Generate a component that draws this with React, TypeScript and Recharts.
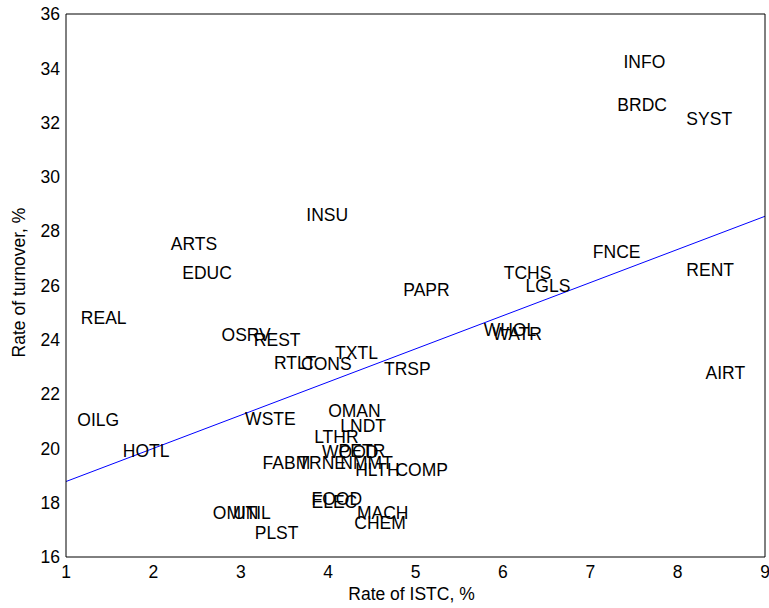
import React from "react";
import { ScatterChart, Scatter, XAxis, YAxis, ReferenceLine, Label } from "recharts";

const sectors = [
  "INFO", "BRDC", "SYST", "INSU", "ARTS", "FNCE", "EDUC", "TCHS", "RENT", "LGLS",
  "PAPR", "REAL", "OSRV", "REST", "WHOL", "WATR", "TXTL", "RTLT", "CONS", "TRSP",
  "AIRT", "OILG", "WSTE", "OMAN", "LNDT", "LTHR", "HOTL", "WOOD", "PETR", "FABM",
  "TRNE", "NMMT", "HLTH", "COMP", "FOOD", "ELEC", "OMIN", "UTIL", "MACH", "CHEM",
  "PLST",
];
const istcRate = [
  7.38, 7.31, 8.1, 3.75, 2.2, 7.03, 2.33, 6.01, 8.1, 6.26,
  4.86, 1.17, 2.78, 3.15, 5.78, 5.88, 4.08, 3.38, 3.69, 4.64,
  8.32, 1.13, 3.05, 4.0, 4.14, 3.84, 1.65, 3.93, 4.12, 3.25,
  3.66, 4.14, 4.31, 4.77, 3.81, 3.81, 2.68, 2.91, 4.33, 4.3,
  3.16,
];
const turnoverRate = [
  34.23, 32.65, 32.13, 28.59, 27.52, 27.23, 26.45, 26.45, 26.56, 25.97,
  25.83, 24.79, 24.17, 23.98, 24.35, 24.2, 23.5, 23.14, 23.1, 22.91,
  22.77, 21.03, 21.1, 21.37, 20.81, 20.41, 19.89, 19.86, 19.9, 19.45,
  19.45, 19.45, 19.19, 19.19, 18.12, 18.01, 17.61, 17.61, 17.61, 17.24,
  16.87,
];
const xTicks = [1, 2, 3, 4, 5, 6, 7, 8, 9];
const yTicks = [16, 18, 20, 22, 24, 26, 28, 30, 32, 34, 36];
const fitX = [1, 9];
const fitY = [18.78, 28.55];

const data = sectors.map((name, i) => ({ name, x: istcRate[i], y: turnoverRate[i] }));

const FONT = "'Liberation Sans', Arial, Helvetica, sans-serif";
const FS = 17.5;

const LabelShape = (props: any) => (
  <text
    x={props.cx}
    y={props.cy}
    dominantBaseline="central"
    textAnchor="start"
    fontSize={FS}
    fontFamily={FONT}
    fill="#000"
  >
    {props.payload.name}
  </text>
);

export default function App() {
  const tickStyle = { fill: "#000", fontSize: FS, fontFamily: FONT };
  const line = { stroke: "#000", strokeWidth: 1 };
  return (
    <div style={{ position: "absolute", left: 0, top: 0, width: 769, height: 608, background: "#fff" }}>
      <ScatterChart width={769} height={608} margin={{ top: 14, right: 4, bottom: 0, left: 0 }}>
        <XAxis
          xAxisId="b"
          type="number"
          dataKey="x"
          domain={[1, 9]}
          ticks={xTicks}
          interval={0}
          orientation="bottom"
          height={51}
          tickLine={false}
          tickSize={0}
          tickMargin={9}
          axisLine={line}
          tick={tickStyle}
        >
          <Label value="Rate of ISTC, %" position="insideBottom" offset={8} dx={-4} fill="#000" fontSize={FS} fontFamily={FONT} />
        </XAxis>
        <XAxis
          xAxisId="bm"
          type="number"
          domain={[1, 9]}
          ticks={xTicks}
          interval={0}
          orientation="bottom"
          mirror
          tickSize={6}
          tick={false}
          axisLine={false}
          tickLine={line}
        />
        <XAxis
          xAxisId="t"
          type="number"
          domain={[1, 9]}
          ticks={xTicks}
          interval={0}
          orientation="top"
          mirror
          tickSize={6}
          tick={false}
          axisLine={line}
          tickLine={line}
        />
        <YAxis
          yAxisId="l"
          type="number"
          dataKey="y"
          domain={[16, 36]}
          ticks={yTicks}
          interval={0}
          orientation="left"
          width={66}
          tickLine={false}
          tickSize={0}
          tickMargin={6}
          axisLine={line}
          tick={tickStyle}
        >
          <Label
            value="Rate of turnover, %"
            angle={-90}
            position="insideLeft"
            offset={19}
            dy={-3}
            fill="#000"
            fontSize={FS}
            fontFamily={FONT}
            style={{ textAnchor: "middle" }}
          />
        </YAxis>
        <YAxis
          yAxisId="lm"
          type="number"
          domain={[16, 36]}
          ticks={yTicks}
          interval={0}
          orientation="left"
          mirror
          tickSize={6}
          tick={false}
          axisLine={false}
          tickLine={line}
        />
        <YAxis
          yAxisId="r"
          type="number"
          domain={[16, 36]}
          ticks={yTicks}
          interval={0}
          orientation="right"
          mirror
          tickSize={6}
          tick={false}
          axisLine={line}
          tickLine={line}
        />
        <ReferenceLine
          xAxisId="b"
          yAxisId="l"
          segment={[
            { x: fitX[0], y: fitY[0] },
            { x: fitX[1], y: fitY[1] },
          ]}
          stroke="#0000ff"
          strokeWidth={1}
          ifOverflow="visible"
        />
        <Scatter xAxisId="b" yAxisId="l" data={data} shape={LabelShape} isAnimationActive={false} />
      </ScatterChart>
    </div>
  );
}
